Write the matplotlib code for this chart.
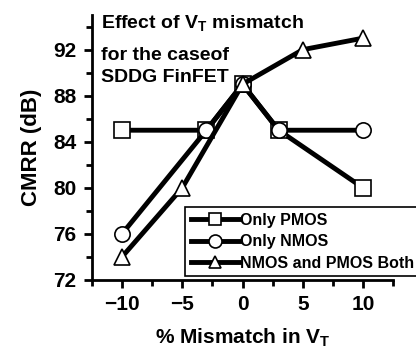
import matplotlib.pyplot as plt
from matplotlib.ticker import MultipleLocator

plt.rcParams['font.family'] = ['Liberation Sans', 'DejaVu Sans']
plt.rcParams['font.weight'] = 'bold'

# data
x_pmos = [-10, -3, 0, 3, 10]
y_pmos = [85, 85, 89, 85, 80]
x_nmos = [-10, -3, 0, 3, 10]
y_nmos = [76, 85, 89, 85, 85]
x_both = [-10, -5, 0, 5, 10]
y_both = [74, 80, 89, 92, 93]

fig = plt.figure(figsize=(4.16, 3.52), dpi=100)
ax = fig.add_axes([0.221, 0.205, 0.724, 0.752])

style = dict(color='black', lw=3.5, mfc='white', mec='black', mew=1.2, ms=11)
ax.plot(x_pmos, y_pmos, marker='s', label='Only PMOS', **style)
ax.plot(x_nmos, y_nmos, marker='o', label='Only NMOS', **style)
ax.plot(x_both, y_both, marker='^', label='NMOS and PMOS Both', **style)

ax.set_xlim(-12.5, 12.5)
ax.set_ylim(72, 95)
ax.xaxis.set_major_locator(MultipleLocator(5))
ax.xaxis.set_minor_locator(MultipleLocator(2.5))
ax.yaxis.set_minor_locator(MultipleLocator(2))
ax.set_yticks([72, 76, 80, 84, 88, 92])

for s in ['top', 'right']:
    ax.spines[s].set_visible(False)
for s in ['left', 'bottom']:
    ax.spines[s].set_linewidth(2)

ax.tick_params(which='major', direction='out', length=6, width=2, labelsize=15, pad=5)
ax.tick_params(which='minor', direction='out', length=4, width=2)
for lab in ax.get_xticklabels() + ax.get_yticklabels():
    lab.set_fontweight('bold')

ax.set_xlabel('% Mismatch in V$_\\mathregular{T}$', fontsize=15, fontweight='bold', labelpad=9)
ax.set_ylabel('CMRR (dB)', fontsize=16, fontweight='bold', labelpad=8)

ax.text(0.03, 1.005, 'Effect of V$_\\mathregular{T}$ mismatch', transform=ax.transAxes,
        fontsize=14, fontweight='bold', va='top')
ax.text(0.03, 0.878, 'for the caseof', transform=ax.transAxes,
        fontsize=14, fontweight='bold', va='top')
ax.text(0.03, 0.795, 'SDDG FinFET', transform=ax.transAxes,
        fontsize=14, fontweight='bold', va='top')

leg = fig.legend(loc='lower right', bbox_to_anchor=(1.01, 0.215),
                 fontsize=11.5, handlelength=3.0, handletextpad=0.1,
                 borderpad=0.35, labelspacing=0.4, fancybox=False, framealpha=1,
                 edgecolor='black', markerscale=0.85, borderaxespad=0)
leg.get_frame().set_linewidth(1.2)
for t in leg.get_texts():
    t.set_fontweight('bold')

fig.savefig('out.png', dpi=100)
